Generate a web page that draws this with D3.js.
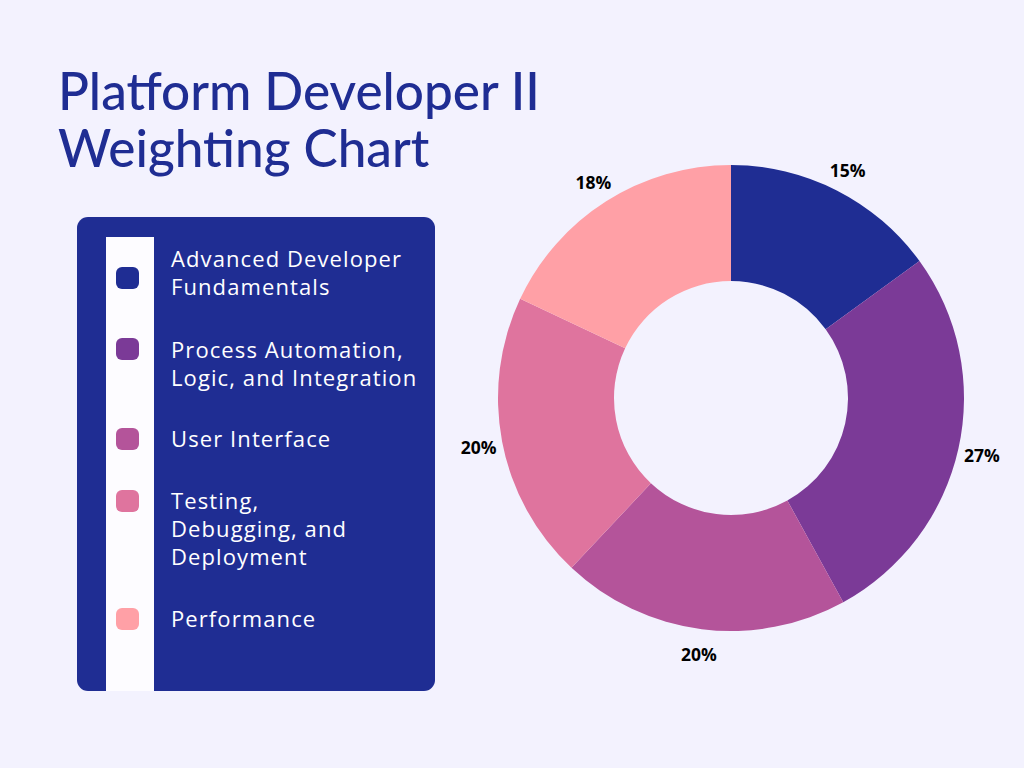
<!DOCTYPE html>
<html>
<head>
<meta charset="utf-8">
<script src="https://cdn.jsdelivr.net/npm/d3@7"></script>
<style>
  body { margin: 0; background: #f3f2fe; }
  svg { display: block; }
</style>
</head>
<body>
<div id="chart"></div>
<script>
// chart data
const categories = [
    ["Advanced Developer", "Fundamentals"],
    ["Process Automation,", "Logic, and Integration"],
    ["User Interface"],
    ["Testing,", "Debugging, and", "Deployment"],
    ["Performance"]
];
const weights = [15, 27, 20, 20, 18];
const colors = ["#1f2d93", "#7b3a97", "#b4549a", "#df749e", "#ffa0a6"];
const swatchY = [278, 349, 439, 501, 619];
const textY = [267, 358, 447, 509, 627];

const width = 1024, height = 768;

const svg = d3.select("#chart").append("svg")
    .attr("width", width)
    .attr("height", height);

svg.append("rect")
    .attr("width", width)
    .attr("height", height)
    .attr("fill", "#f3f2fe");

// title
const title = svg.append("text")
    .attr("x", 58)
    .attr("fill", "#1f2d93")
    .style("font-family", "Lato, 'Noto Sans', sans-serif")
    .style("font-weight", 500)
    .style("font-size", "52px");
title.append("tspan").attr("x", 58).attr("y", 110).text("Platform Developer II");
title.append("tspan").attr("x", 58).attr("y", 167).text("Weighting Chart");

// fit the first line to the reference width
let tw = title.select("tspan").node().getComputedTextLength();
title.style("font-size", (52 * 482 / tw) + "px");

// legend panel
svg.append("rect")
    .attr("x", 77).attr("y", 217)
    .attr("width", 358).attr("height", 474)
    .attr("rx", 11)
    .attr("fill", "#1f2d93");

svg.append("rect")
    .attr("x", 106).attr("y", 237)
    .attr("width", 48).attr("height", 454)
    .attr("fill", "#fdfcff");

const items = svg.selectAll("g.legend")
    .data(categories)
    .enter()
    .append("g")
    .attr("class", "legend");

items.append("rect")
    .attr("x", 116)
    .attr("y", (d, i) => swatchY[i] - 11)
    .attr("width", 23).attr("height", 22)
    .attr("rx", 6)
    .attr("fill", (d, i) => colors[i]);

const labels = items.append("text")
    .attr("fill", "#ffffff")
    .style("font-family", "'Open Sans', sans-serif")
    .style("font-size", "22px");

labels.selectAll("tspan")
    .data((d, i) => d.map((s, j) => ({s: s, y: textY[i] + j * 28})))
    .enter()
    .append("tspan")
    .attr("x", 171)
    .attr("y", d => d.y)
    .text(d => d.s);

// a little extra spacing so "Advanced Developer" spans ~230px like the reference
let lw = labels.select("tspan").node().getComputedTextLength();
let spacing = Math.max(0, (230 - lw) / 17);
labels.style("letter-spacing", spacing + "px");

// donut
const cx = 731, cy = 398;
const outerR = 233, innerR = 117;

const pie = d3.pie().sort(null).value(d => d);
const arc = d3.arc().innerRadius(innerR).outerRadius(outerR);
const labelArc = d3.arc().innerRadius(257).outerRadius(257);

const donut = svg.append("g")
    .attr("transform", "translate(" + cx + "," + cy + ")");

const arcs = pie(weights);

donut.selectAll("path")
    .data(arcs)
    .enter()
    .append("path")
    .attr("d", arc)
    .attr("fill", (d, i) => colors[i]);

donut.selectAll("text")
    .data(arcs)
    .enter()
    .append("text")
    .attr("transform", d => "translate(" + labelArc.centroid(d) + ")")
    .attr("text-anchor", "middle")
    .attr("dy", "0.45em")
    .style("font-family", "'Open Sans', sans-serif")
    .style("font-weight", 700)
    .style("font-size", "17.5px")
    .attr("fill", "#000")
    .text(d => d.data + "%");
</script>
</body>
</html>
